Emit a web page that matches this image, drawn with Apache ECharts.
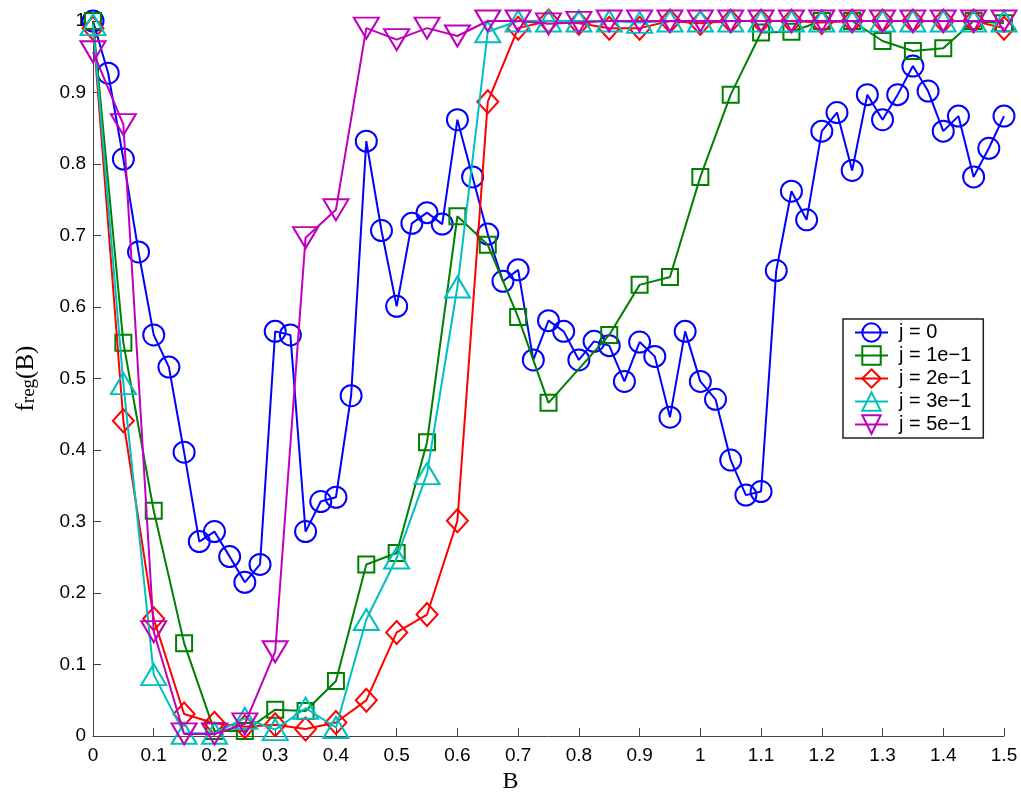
<!DOCTYPE html>
<html>
<head>
<meta charset="utf-8">
<script src="https://cdn.jsdelivr.net/npm/echarts@6/dist/echarts.min.js"></script>
<style>
  html, body { margin: 0; padding: 0; background: #ffffff; }
  #chart { width: 1021px; height: 799px; }
</style>
</head>
<body>
<div id="chart"></div>
<script>
// B samples: fine grid for j = 0, coarse grid for the other couplings
const bFine = [
  0, 0.025, 0.05, 0.075, 0.1, 0.125, 0.15, 0.175, 0.2, 0.225,
  0.25, 0.275, 0.3, 0.325, 0.35, 0.375, 0.4, 0.425, 0.45, 0.475,
  0.5, 0.525, 0.55, 0.575, 0.6, 0.625, 0.65, 0.675, 0.7, 0.725,
  0.75, 0.775, 0.8, 0.825, 0.85, 0.875, 0.9, 0.925, 0.95, 0.975,
  1.0, 1.025, 1.05, 1.075, 1.1, 1.125, 1.15, 1.175, 1.2, 1.225,
  1.25, 1.275, 1.3, 1.325, 1.35, 1.375, 1.4, 1.425, 1.45, 1.475, 1.5
];
const bCoarse = [
  0, 0.05, 0.1, 0.15, 0.2, 0.25, 0.3, 0.35, 0.4, 0.45,
  0.5, 0.55, 0.6, 0.65, 0.7, 0.75, 0.8, 0.85, 0.9, 0.95,
  1.0, 1.05, 1.1, 1.15, 1.2, 1.25, 1.3, 1.35, 1.4, 1.45, 1.5
];

// f_reg(B) for each coupling j
const fJ0 = [
  1.000, 0.927, 0.807, 0.677, 0.561, 0.516, 0.397, 0.272, 0.286, 0.251,
  0.215, 0.240, 0.566, 0.561, 0.286, 0.328, 0.334, 0.476, 0.832, 0.707,
  0.601, 0.717, 0.732, 0.716, 0.862, 0.782, 0.702, 0.636, 0.652, 0.526,
  0.581, 0.566, 0.526, 0.552, 0.546, 0.496, 0.551, 0.531, 0.446, 0.566,
  0.496, 0.471, 0.386, 0.337, 0.342, 0.651, 0.762, 0.722, 0.846, 0.872,
  0.791, 0.897, 0.862, 0.897, 0.937, 0.902, 0.846, 0.867, 0.782, 0.822, 0.867
];
const fJ1 = [
  1.000, 0.550, 0.315, 0.130, 0.007, 0.007, 0.037, 0.035, 0.077, 0.240,
  0.256, 0.411, 0.727, 0.687, 0.586, 0.466, null, 0.561, 0.631, 0.642,
  0.782, 0.897, 0.984, 0.985, 1.000, 1.000, 0.972, 0.958, 0.962, 1.000, 0.997
];
const fJ2 = [
  0.990, 0.441, 0.164, 0.031, 0.018, 0.013, 0.016, 0.010, 0.019, 0.050,
  0.145, 0.170, 0.301, 0.887, 0.990, 1.000, 0.997, 0.990, 0.990, 1.000,
  0.997, 1.000, 1.000, 1.000, 0.998, 1.000, 1.000, 1.000, 1.000, 1.000, 0.990
];
const fJ3 = [
  0.995, 0.493, 0.086, 0.004, 0.004, 0.025, 0.009, 0.039, 0.012, 0.163,
  0.249, 0.367, 0.628, 0.985, 1.000, 1.000, 1.000, 1.000, 0.998, 1.000,
  1.000, 1.000, 1.000, 1.000, 1.000, 1.000, 1.000, 1.000, 1.000, 1.000, 1.000
];
const fJ5 = [
  0.957, 0.855, 0.146, 0.003, 0.003, 0.017, 0.118, 0.697, 0.736, 0.990,
  0.974, 0.990, 0.979, 1.000, 1.000, 0.996, 0.998, 1.000, 1.000, 1.000,
  1.000, 1.000, 1.000, 1.000, 1.000, 1.000, 1.000, 1.000, 1.000, 1.000, 1.000
];

const seriesNames = ['j = 0', 'j = 1e\u22121', 'j = 2e\u22121', 'j = 3e\u22121', 'j = 5e\u22121'];
const xTickLabels = ['0', '0.1', '0.2', '0.3', '0.4', '0.5', '0.6', '0.7', '0.8', '0.9',
                     '1', '1.1', '1.2', '1.3', '1.4', '1.5'];
const yTickLabels = ['0', '0.1', '0.2', '0.3', '0.4', '0.5', '0.6', '0.7', '0.8', '0.9', '1'];

const colors = ['#0000ff', '#008000', '#ff0000', '#00bfbf', '#bf00bf'];
const markers = [
  { symbol: 'circle',   size: 21,        rotate: 0 },
  { symbol: 'rect',     size: 16,        rotate: 0 },
  { symbol: 'diamond',  size: [21, 23],  rotate: 0 },
  { symbol: 'triangle', size: [25, 21],  rotate: 0 },
  { symbol: 'triangle', size: [25, 21],  rotate: 180 }
];

function pairs(xs, ys) {
  return xs.map((x, i) => [x, ys[i]]);
}

const dataSets = [
  pairs(bFine, fJ0),
  pairs(bCoarse, fJ1),
  pairs(bCoarse, fJ2),
  pairs(bCoarse, fJ3),
  pairs(bCoarse, fJ5)
];

const tickFont = { fontFamily: 'Liberation Sans, Arial, sans-serif', fontSize: 19, color: '#000' };

const series = dataSets.map((d, i) => ({
  name: seriesNames[i],
  type: 'line',
  data: d,
  clip: false,
  connectNulls: true,
  symbol: markers[i].symbol,
  symbolSize: markers[i].size,
  symbolRotate: markers[i].rotate,
  showAllSymbol: true,
  lineStyle: { color: colors[i], width: 2 },
  itemStyle: { color: 'rgba(255,255,255,0)', borderColor: colors[i], borderWidth: 2 },
  emphasis: { disabled: true },
  animation: false,
  z: 2 + i
}));

const chart = echarts.init(document.getElementById('chart'), null, { renderer: 'canvas' });

chart.setOption({
  backgroundColor: '#ffffff',
  animation: false,
  grid: { left: 93, right: 17, top: 21, bottom: 61, containLabel: false },
  xAxis: {
    type: 'value',
    min: 0, max: 1.5, interval: 0.1,
    splitLine: { show: false },
    axisLine: { show: true, lineStyle: { color: '#444', width: 1 } },
    axisTick: { show: true, inside: true, length: 8, lineStyle: { color: '#444' } },
    axisLabel: Object.assign({ margin: 10, formatter: (v) => xTickLabels[Math.round(v * 10)] }, tickFont),
    name: 'B',
    nameLocation: 'middle',
    nameGap: 30,
    nameTextStyle: { fontFamily: 'Liberation Serif, Times New Roman, serif', fontSize: 24, color: '#000', padding: [0, 76, 0, 0] }
  },
  yAxis: {
    type: 'value',
    min: 0, max: 1, interval: 0.1,
    splitLine: { show: false },
    axisLine: { show: true, lineStyle: { color: '#444', width: 1 } },
    axisTick: { show: true, inside: true, length: 8, lineStyle: { color: '#444' } },
    axisLabel: Object.assign({ margin: 7, formatter: (v) => yTickLabels[Math.round(v * 10)] }, tickFont),
    name: '{a|f}{b|reg}{a|(B)}',
    nameLocation: 'middle',
    nameRotate: 90,
    nameGap: 54,
    nameTextStyle: {
      rich: {
        a: { fontFamily: 'Liberation Serif, Times New Roman, serif', fontSize: 25, lineHeight: 25,
             padding: [0, 0, 8, 0], verticalAlign: 'top', color: '#000' },
        b: { fontFamily: 'Liberation Serif, Times New Roman, serif', fontSize: 19, lineHeight: 19,
             verticalAlign: 'bottom', color: '#000' }
      }
    }
  },
  legend: {
    orient: 'vertical',
    left: 843, top: 319,
    padding: [2, 12, 2, 11],
    itemWidth: 33,
    itemHeight: 23,
    itemGap: 0,
    backgroundColor: '#ffffff',
    borderColor: '#222',
    borderWidth: 1.5,
    borderRadius: 0,
    selectedMode: false,
    textStyle: { fontFamily: 'Liberation Sans, Arial, sans-serif', fontSize: 20, lineHeight: 23, color: '#000', padding: [0, 0, 0, 6] },
    data: seriesNames.map((n, i) => ({
      name: n,
      itemStyle: { color: 'rgba(255,255,255,0)', borderColor: colors[i], borderWidth: 2 },
      lineStyle: { color: colors[i], width: 2 }
    }))
  },
  series: series
});
</script>
</body>
</html>
